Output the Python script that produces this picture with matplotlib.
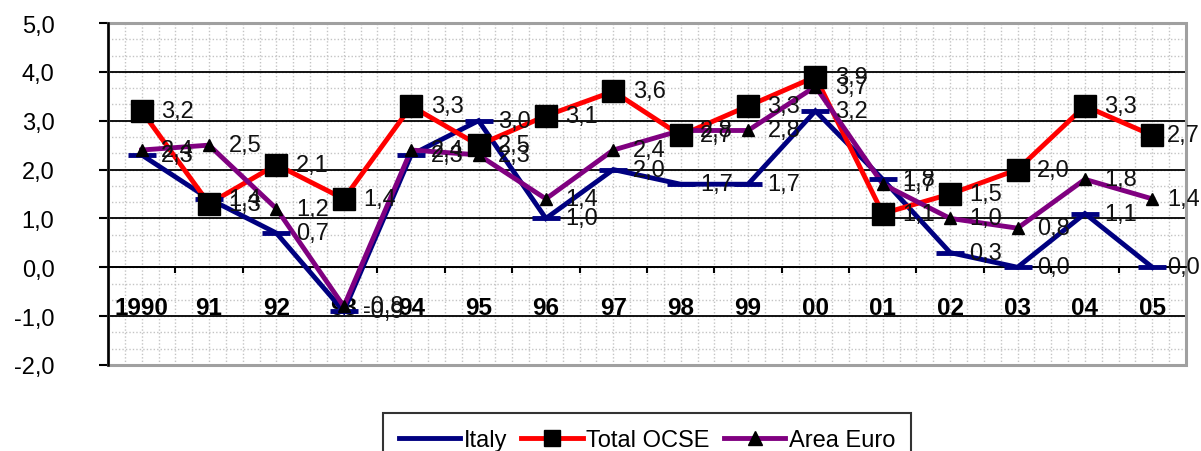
import matplotlib
matplotlib.use("Agg")
import matplotlib.pyplot as plt
from matplotlib.lines import Line2D
from matplotlib.patches import Rectangle
from matplotlib.ticker import FixedLocator, FuncFormatter, MultipleLocator
import numpy as np

# ── data ──────────────────────────────────────────────────────────────────────
years = ["1990", "91", "92", "93", "94", "95", "96", "97",
         "98", "99", "00", "01", "02", "03", "04", "05"]
italy = [2.3, 1.4, 0.7, -0.9, 2.3, 3.0, 1.0, 2.0, 1.7, 1.7, 3.2, 1.8, 0.3, 0.0, 1.1, 0.0]
ocse = [3.2, 1.3, 2.1, 1.4, 3.3, 2.5, 3.1, 3.6, 2.7, 3.3, 3.9, 1.1, 1.5, 2.0, 3.3, 2.7]
euro = [2.4, 2.5, 1.2, -0.8, 2.4, 2.3, 1.4, 2.4, 2.8, 2.8, 3.7, 1.7, 1.0, 0.8, 1.8, 1.4]
series_names = ["Italy", "Total OCSE", "Area Euro"]

plt.rcParams["font.family"] = ["Liberation Sans", "DejaVu Sans"]


def comma(v, _pos=None):
    return f"{v:.1f}".replace(".", ",")


fig = plt.figure(figsize=(12.01, 4.52), dpi=100)
ax = fig.add_axes([0.0899, 0.1903, 0.8976, 0.7566])
x = np.arange(len(years))

ax.set_xlim(-0.5, len(years) - 0.5)
ax.set_ylim(-2, 5)

# dotted background pattern (Excel plot-area fill)
ax.hlines(np.arange(-2, 5, 1 / 3), -0.5, len(years) - 0.5, color="#c4c4c4",
          linestyles=(0, (1, 1.5)), linewidth=1, zorder=0.5)
ax.vlines(np.arange(-0.5, len(years) - 0.5, 0.25), -2, 5, color="#c4c4c4",
          linestyles=(0, (1, 1.5)), linewidth=1, zorder=0.5)

# major horizontal gridlines
ax.yaxis.set_major_locator(MultipleLocator(1))
ax.yaxis.set_major_formatter(FuncFormatter(comma))
ax.grid(axis="y", color="black", linewidth=1.3, zorder=0.6)
ax.set_axisbelow(True)

# frame: gray border, black left axis, x axis at zero
for s in ["top", "right"]:
    ax.spines[s].set_visible(False)
ax.spines["bottom"].set_position(("data", 0))
ax.spines["bottom"].set_linewidth(1.3)
ax.spines["left"].set_linewidth(1.8)
ax.add_patch(Rectangle((0, 0), 1, 1, transform=ax.transAxes, fill=False,
                       edgecolor="#a0a0a0", linewidth=2.2, zorder=2.4, clip_on=False))

ax.tick_params(axis="y", direction="out", length=6.5, width=1.5,
               pad=32, labelsize=17)
ax.xaxis.set_major_locator(FixedLocator(x))
ax.set_xticklabels(years, fontsize=17.5, fontweight="bold")
ax.xaxis.set_minor_locator(FixedLocator(x[:-1] + 0.5))
ax.tick_params(axis="x", which="major", length=0, pad=21)
ax.tick_params(axis="x", which="minor", direction="out", length=4, width=1.5)

# series
colors = ["#000080", "#ff0000", "#800080"]
markers = ["_", "s", "^"]
msizes = [19.5, 16.5, 9]
leg_msizes = [0, 11, 10]
medge = [3.5, 1, 1]
mcolors = ["#000080", "black", "black"]
data = [italy, ocse, euro]

for i, vals in enumerate(data):
    ax.plot(x, vals, color=colors[i], linewidth=3.5, zorder=3 + i * 0.1,
            solid_joinstyle="miter")
for i, vals in enumerate(data):
    ax.plot(x, vals, linestyle="none", marker=markers[i], markersize=msizes[i],
            markerfacecolor=mcolors[i], markeredgecolor=mcolors[i],
            markeredgewidth=medge[i], zorder=4)
labels = []
for i, vals in enumerate(data):
    for xi, v in zip(x, vals):
        labels.append(ax.annotate(comma(v), (xi, v), xytext=(14, 0),
                                  textcoords="offset points", ha="left",
                                  va="center", fontsize=17, color="#111111",
                                  zorder=6))

handles = [Line2D([], [], color=colors[i], linewidth=3.5, marker=markers[i],
                  markersize=leg_msizes[i],
                  markerfacecolor=mcolors[i], markeredgecolor=mcolors[i])
           for i in range(3)]
leg = fig.legend(handles, series_names, loc="upper center",
                 bbox_to_anchor=(0.5387, 0.0841), ncol=3, fontsize=17,
                 frameon=True, fancybox=False, edgecolor="black",
                 handlelength=2.6, handletextpad=0.15, columnspacing=0.6,
                 borderpad=0.68, borderaxespad=0)
leg.get_frame().set_linewidth(1.5)

# like Excel, keep labels at the right end inside the picture
fig.canvas.draw()
width_px = fig.bbox.width
for t in labels:
    bb = t.get_window_extent()
    if bb.x1 > width_px - 1:
        shift = (bb.x1 - width_px + 1) * 72 / fig.dpi
        t.xyann = (t.xyann[0] - shift, t.xyann[1])

fig.savefig("out.png", dpi=100)
